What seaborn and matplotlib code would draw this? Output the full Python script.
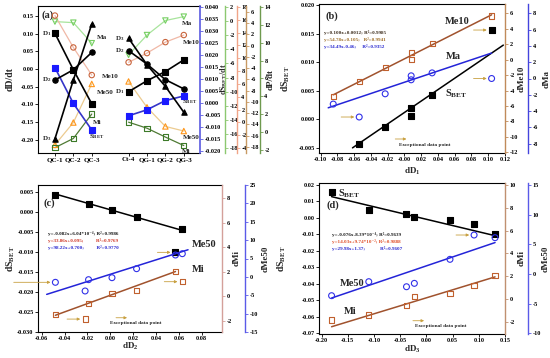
import matplotlib
matplotlib.use('Agg')
import matplotlib.pyplot as plt
import matplotlib.ticker as mticker
import numpy as np
import seaborn as sns

# ---------------- panel (a): change rates per sample ----------------
samples_a = ['QC-1', 'QC-2', 'QC-3', 'Ct-4', 'QG-1', 'QG-2', 'QG-3']
ma_a = [0.134, 0.131, 0.073, 0.040, 0.096, 0.137, 0.148]
me10_a = [0.151, 0.061, -0.017, 0.019, 0.045, 0.076, 0.096]
me50_a = [-0.214, -0.151, -0.042, -0.035, -0.108, -0.162, -0.175]
mi_a = [-0.222, -0.196, -0.127, -0.150, -0.167, -0.192, -0.216]
sbet_a = [0.004, -0.097, -0.172, -0.132, -0.115, -0.089, -0.076]
d1_a = [0.101, -0.002, -0.098, -0.064, -0.033, -0.007, 0.026]
d2_a = [-0.031, -0.002, 0.047, 0.052, 0.014, -0.030, -0.056]
d3_a = [-0.197, -0.031, 0.127, 0.087, 0.012, -0.049, -0.122]

# ---------------- panel (b): vs dD1 ----------------
dd1 = [-0.085, -0.054, -0.023, 0.008, 0.008, 0.033, 0.104]
me10_b = [-4.81, -2.79, -0.98, 0.96, -0.03, 2.12, 5.65]
ma_b = [-3.14, -4.73, -1.88, 0.33, -0.16, 0.69, 0.00]
dd1_s = [-0.054, -0.023, 0.008, 0.008, 0.033, 0.104]
sbet_b = [-0.00425, -0.00140, 0.00198, 0.00064, 0.00430, 0.01564]

# ---------------- panel (c): vs dD2 ----------------
dd2 = [-0.048, -0.022, -0.019, 0.0015, 0.023, 0.057, 0.063]
mi_c = [-1.46, -1.84, -0.56, 0.25, 0.46, 2.01, 1.20]
me50_c = [-1.48, -3.84, -0.76, -0.22, 2.23, 5.95, 6.31]
dd2_s = [-0.048, -0.019, 0.0015, 0.023, 0.057, 0.063]
sbet_c = [0.00433, 0.00200, 0.00066, -0.00124, -0.01006, -0.00415]

# ---------------- panel (d): vs dD3 ----------------
dd3 = [-0.181, -0.110, -0.038, -0.023, 0.045, 0.091, 0.131]
sbet_d = [0.0159, 0.0048, 0.0024, 0.0008, -0.0012, -0.0039, -0.0099]
mi_d = [-1.85, -1.41, -0.60, 0.20, 0.49, 1.16, 2.04]
me50_d = [-3.66, -1.30, -2.15, -1.58, 2.47, 6.57, 6.12]

# fitted lines: slope, intercept, x range
fit_b = {'sbet': (0.100, 0.0012, -0.062, 0.118),
         'me10': (54.78, 0.105, -0.085, 0.104),
         'ma': (34.49, -0.46, -0.091, 0.104)}
fit_c = {'sbet': (-0.082, 6.04e-4, -0.048, 0.063),
         'mi': (33.86, 0.095, -0.048, 0.057),
         'me50': (98.22, 0.700, -0.0556, 0.068)}
fit_d = {'sbet': (-0.076, -8.39e-4, -0.181, 0.131),
         'mi': (14.03, 9.74e-2, -0.181, 0.131),
         'me50': (29.98, 1.37, -0.181, 0.131)}

eq_b = ['y=0.100x+0.0012; R²=0.9985',
        'y=54.78x+0.105;   R²=0.9941',
        'y=34.49x-0.46;     R²=0.9352']
eq_c = ['y=-0.082x+6.04*10⁻⁴; R²=0.9986',
        'y=33.86x+0.095;          R²=0.9769',
        'y=98.22x+0.700;          R²=0.9770']
eq_d = ['y=-0.076x-8.39*10⁻⁴; R²=0.9639',
        'y=14.03x+9.74*10⁻²; R²=0.9888',
        'y=29.98x+1.37;            R²=0.9607']

sns.set_theme(style='ticks')
plt.rcParams.update({
    'font.family': ['Liberation Serif', 'DejaVu Serif'],
    'font.weight': 'bold',
    'axes.labelweight': 'bold',
    'mathtext.fontset': 'custom',
    'mathtext.rm': 'Liberation Serif:bold',
    'mathtext.it': 'Liberation Serif:italic:bold',
    'mathtext.bf': 'Liberation Serif:bold',
    'mathtext.default': 'rm',
    'axes.unicode_minus': False,
    'xtick.labelsize': 4.5, 'ytick.labelsize': 4.5,
    'xtick.major.size': 2, 'ytick.major.size': 2,
    'xtick.major.width': 0.6, 'ytick.major.width': 0.6,
    'xtick.major.pad': 1.2, 'ytick.major.pad': 1.2,
    'axes.linewidth': 0.8,
    'axes.edgecolor': 'black',
    'xtick.color': 'black', 'ytick.color': 'black',
})

W, H = 550, 358
ARROW = '#c8a040'
BROWN = '#a0522d'
BROWN_M = '#c0602e'
BLUE = '#2424d8'


def place(x0, y0, x1, y1):
    return [x0 / W, 1 - y1 / H, (x1 - x0) / W, (y1 - y0) / H]


def dots(ax, x, y, marker, color, filled=True, s=14, lw=0.8):
    sns.scatterplot(x=x, y=y, ax=ax, marker=marker, s=s, color=color,
                    facecolor=color if filled else 'none', edgecolor=color,
                    linewidth=lw, zorder=5, legend=False)


def line(ax, x, y, color, lw=1.0):
    sns.lineplot(x=x, y=y, ax=ax, color=color, lw=lw, estimator=None,
                 sort=False, legend=False, zorder=3)


def fit_line(ax, fit, color):
    k, b, x0, x1 = fit
    xs = np.array([x0, x1])
    line(ax, xs, k * xs + b, color, lw=1.1)


def twin(ax, offset, color, lim, step, fmt='%d', lw=1.0):
    tw = ax.twinx()
    for s in ['top', 'left', 'bottom']:
        tw.spines[s].set_visible(False)
    tw.spines['right'].set_position(('axes', offset))
    tw.spines['right'].set_color(color)
    tw.spines['right'].set_linewidth(lw)
    tw.set_ylim(lim)
    tw.yaxis.set_major_locator(mticker.MultipleLocator(step))
    tw.yaxis.set_major_formatter(mticker.FormatStrFormatter(fmt))
    tw.tick_params(axis='y', color=color, labelcolor='black')
    return tw


def exceptional(ax, x, y, dx=-13):
    ax.annotate('', xy=(x, y), xytext=(dx, 0), textcoords='offset points',
                arrowprops=dict(arrowstyle='-|>', color=ARROW, lw=0.6,
                                mutation_scale=4, shrinkA=0, shrinkB=3.5),
                zorder=6)


def exc_legend(ax, ax0, ay0, tx, ty):
    ax.annotate('', xy=(ax0 + 0.06, ay0), xytext=(ax0, ay0), xycoords='axes fraction',
                arrowprops=dict(arrowstyle='-|>', color=ARROW, lw=0.6,
                                mutation_scale=4, shrinkA=0, shrinkB=0))
    ax.text(tx, ty, 'Exceptional data point', transform=ax.transAxes,
            fontsize=3.8, ha='center', va='center')


def equations(ax, x, y0, lines, colors, gap_px=7):
    # stack the fit equations downwards from y0 (axes fraction)
    step = gap_px / (ax.get_position().height * H)
    for i, (txt, c) in enumerate(zip(lines, colors)):
        ax.text(x, y0 - i * step, txt, transform=ax.transAxes, fontsize=3.7,
                color=c, ha='left', va='center')


fig = plt.figure(figsize=(5.5, 3.58), dpi=100)

# ======================= (a) =======================
ax = fig.add_axes(place(38, 6, 200, 153))
xpos = np.array([i + (1 if i >= 3 else 0) for i in range(len(samples_a))])
sections = [slice(0, 3), slice(3, 7)]
series_a = [
    ('Ma', ma_a, 'v', '#76cf62', '#a8e49c', False),
    ('Me10', me10_a, 'o', '#c8643c', '#f0b8a6', False),
    ('Me50', me50_a, '^', '#ff961a', '#eccb90', False),
    ('Mi', mi_a, 's', '#3c7a28', '#4f7a34', False),
    ('SBET', sbet_a, 's', '#1a1aff', '#3434c8', True),
    ('D1', d1_a, 's', 'black', 'black', True),
    ('D2', d2_a, 'o', 'black', 'black', True),
    ('D3', d3_a, '^', 'black', 'black', True),
]
for name, vals, mk, mc, lc, filled in series_a:
    vals = np.array(vals)
    for sec in sections:
        line(ax, xpos[sec], vals[sec], lc, lw=1.2 if filled else 0.9)
    dots(ax, xpos, vals, mk, mc, filled, s=15)

ax.set_xlim(-0.92, 7.88)
ax.set_ylim(-0.237, 0.178)
ax.set_xticks(xpos)
ax.set_xticklabels(samples_a, fontsize=5)
ax.yaxis.set_major_locator(mticker.MultipleLocator(0.05))
ax.yaxis.set_major_formatter(mticker.FormatStrFormatter('%.2f'))
ax.spines['right'].set_visible(False)
ax.set_ylabel('dD/dt', fontsize=7)
ax.yaxis.set_label_coords(-0.142, 0.5)
ax.set_xlabel('')
ax.text(0.022, 0.94, '(a)', transform=ax.transAxes, fontsize=7.5, va='center')

px = 0.72  # points per pixel
lab_a = [
    ('Ma', ma_a, 2, 5, 6, 'left'), ('Me10', me10_a, 2, 10, -1, 'left'),
    ('Me50', me50_a, 2, 5, -9, 'left'), ('Mi', mi_a, 2, 1, -8, 'left'),
    ('S$_{BET}$', sbet_a, 2, -3, -7, 'left'),
    ('D$_1$', d1_a, 0, -4, 0, 'right'), ('D$_2$', d2_a, 0, -4, 0, 'right'),
    ('D$_3$', d3_a, 0, -4, 0, 'right'),
    ('D$_3$', d3_a, 3, -4, 0, 'right'), ('D$_2$', d2_a, 3, -4, 0, 'right'),
    ('D$_1$', d1_a, 3, -4, 0, 'right'),
    ('Ma', ma_a, 6, -2, -7, 'left'), ('Me10', me10_a, 6, -1, -7, 'left'),
    ('S$_{BET}$', sbet_a, 6, -2, -6, 'left'), ('Me50', me50_a, 6, -1, -6, 'left'),
    ('Mi', mi_a, 6, -2, -6, 'left'),
]
for txt, vals, i, dx, dy, ha in lab_a:
    ax.annotate(txt, xy=(xpos[i], vals[i]), xytext=(dx * px, dy * px),
                textcoords='offset points', fontsize=5, ha=ha, va='center')

tw_s = twin(ax, 1.0, '#5a5ae0', (-0.0208, 0.0404), 0.005, '%.3f', lw=1.2)
tw_s.set_ylabel('dS$_{BET}$/dt', fontsize=5.8)
tw_s.yaxis.set_label_coords(1.113, 0.5)
twin(ax, 1.154, '#8cc870', (-18.7, 2.14), 2)
twin(ax, 1.228, '#f0a488', (-4.78, 18.16), 2)
twin(ax, 1.284, '#c89a64', (-19.1, 7.07), 2)
tw_p = twin(ax, 1.370, '#6f9a4f', (-2.34, 14.1), 2)
tw_p.set_ylabel('dP/dt', fontsize=6.5)
tw_p.yaxis.set_label_coords(1.414, 0.5)

# ======================= (b) =======================
ax = fig.add_axes(place(319, 4, 505, 153))
tw1 = twin(ax, 1.0, '#c08a5a', (-12.08, 7.2), 2)
tw2 = twin(ax, 1.124, '#4444dd', (-9.15, 9.15), 2)
fit_line(ax, fit_b['sbet'], 'black')
fit_line(tw1, fit_b['me10'], BROWN)
fit_line(tw2, fit_b['ma'], BLUE)
dots(ax, dd1_s, sbet_b, 's', 'black', True, s=14)
dots(tw1, dd1, me10_b, 's', BROWN_M, False, s=14)
dots(tw2, dd1, ma_b, 'o', '#3030e8', False, s=18)
exceptional(tw2, dd1[1], ma_b[1])
exceptional(tw2, dd1[6], ma_b[6])
exceptional(ax, dd1_s[5], sbet_b[5])
ax.set_xlim(-0.102, 0.12)
ax.set_ylim(-0.0059, 0.0202)
ax.xaxis.set_major_locator(mticker.MultipleLocator(0.02))
ax.xaxis.set_major_formatter(mticker.FormatStrFormatter('%.2f'))
ax.yaxis.set_major_locator(mticker.MultipleLocator(0.005))
ax.yaxis.set_major_formatter(mticker.FormatStrFormatter('%.3f'))
ax.spines['right'].set_visible(False)
ax.set_xlabel('dD$_1$', fontsize=6.5)
ax.xaxis.set_label_coords(0.5, -0.087)
ax.set_ylabel('dS$_{BET}$', fontsize=7)
ax.yaxis.set_label_coords(-0.145, 0.5)
tw1.set_ylabel('dMe10', fontsize=6.5)
tw1.yaxis.set_label_coords(1.07, 0.5)
tw2.set_ylabel('dMa', fontsize=6.5)
tw2.yaxis.set_label_coords(1.204, 0.5)
ax.text(0.035, 0.92, '(b)', transform=ax.transAxes, fontsize=7.5, va='center')
ax.text(0.677, 0.881, 'Me10', transform=ax.transAxes, fontsize=7.5, va='center')
ax.text(0.683, 0.645, 'Ma', transform=ax.transAxes, fontsize=7.5, va='center')
ax.text(0.677, 0.397, 'S$_{BET}$', transform=ax.transAxes, fontsize=7.5, va='center')
equations(ax, 0.027, 0.81, eq_b, ['#3a2a1a', '#a0702a', '#2a2ad0'])
exc_legend(ax, 0.41, 0.094, 0.57, 0.054)

# ======================= (c) =======================
ax = fig.add_axes(place(38, 185, 222, 332))
tw1 = twin(ax, 1.0, '#d4a09a', (-2.89, 9.06), 2)
tw2 = twin(ax, 1.125, '#5a5ae8', (-15, 25), 5)
fit_line(ax, fit_c['sbet'], 'black')
fit_line(tw1, fit_c['mi'], BROWN)
fit_line(tw2, fit_c['me50'], BLUE)
dots(ax, dd2_s, sbet_c, 's', 'black', True, s=14)
dots(tw1, dd2, mi_c, 's', BROWN_M, False, s=14)
dots(tw2, dd2, me50_c, 'o', '#3030e8', False, s=18)
exceptional(tw2, dd2[0], me50_c[0], dx=-30)
exceptional(tw1, dd2[1], mi_c[1])
exceptional(tw1, dd2[6], mi_c[6])
exceptional(ax, dd2_s[4], sbet_c[4])
ax.set_xlim(-0.0632, 0.0977)
ax.set_ylim(-0.0300, 0.0068)
ax.xaxis.set_major_locator(mticker.MultipleLocator(0.02))
ax.xaxis.set_major_formatter(mticker.FormatStrFormatter('%.2f'))
ax.yaxis.set_major_locator(mticker.MultipleLocator(0.005))
ax.yaxis.set_major_formatter(mticker.FormatStrFormatter('%.3f'))
ax.spines['right'].set_visible(False)
ax.set_xlabel('dD$_2$', fontsize=6.5)
ax.xaxis.set_label_coords(0.5, -0.06)
ax.set_ylabel('dS$_{BET}$', fontsize=7)
ax.yaxis.set_label_coords(-0.112, 0.5)
tw1.set_ylabel('dMi', fontsize=6.5)
tw1.yaxis.set_label_coords(1.06, 0.5)
tw2.set_ylabel('dMe50', fontsize=6.5)
tw2.yaxis.set_label_coords(1.217, 0.5)
ax.text(0.03, 0.877, '(c)', transform=ax.transAxes, fontsize=7.5, va='center')
ax.text(0.837, 0.592, 'Me50', transform=ax.transAxes, fontsize=7.5, va='center')
ax.text(0.837, 0.422, 'Mi', transform=ax.transAxes, fontsize=7.5, va='center')
equations(ax, 0.054, 0.672, eq_c, ['#1a1a1a', '#d03a2a', '#2a2ad0'])
exc_legend(ax, 0.424, 0.097, 0.533, 0.059)

# ======================= (d) =======================
ax = fig.add_axes(place(319, 183, 505, 334))
tw1 = twin(ax, 1.0, '#c09070', (-3.08, 10.18), 2)
tw2 = twin(ax, 1.124, '#5a5ae8', (-10.12, 15.34), 5)
fit_line(ax, fit_d['sbet'], 'black')
fit_line(tw1, fit_d['mi'], BROWN)
fit_line(tw2, fit_d['me50'], BLUE)
dots(ax, dd3, sbet_d, 's', 'black', True, s=14)
dots(tw1, dd3, mi_d, 's', BROWN_M, False, s=14)
dots(tw2, dd3, me50_d, 'o', '#3030e8', False, s=18)
exceptional(tw2, dd3[5], me50_d[5])
ax.set_xlim(-0.205, 0.15)
ax.set_ylim(-0.0705, 0.0212)
ax.xaxis.set_major_locator(mticker.MultipleLocator(0.05))
ax.xaxis.set_major_formatter(mticker.FormatStrFormatter('%.2f'))
ax.yaxis.set_major_locator(mticker.MultipleLocator(0.01))
ax.yaxis.set_major_formatter(mticker.FormatStrFormatter('%.2f'))
ax.spines['right'].set_visible(False)
ax.set_xlabel('dD$_3$', fontsize=6.5)
ax.xaxis.set_label_coords(0.5, -0.066)
ax.set_ylabel('dS$_{BET}$', fontsize=7)
ax.yaxis.set_label_coords(-0.167, 0.5)
tw1.set_ylabel('dMi', fontsize=6.5)
tw1.yaxis.set_label_coords(1.07, 0.5)
tw2.set_ylabel('dMe50', fontsize=6.5)
tw2.yaxis.set_label_coords(1.199, 0.5)
ax.text(0.043, 0.854, '(d)', transform=ax.transAxes, fontsize=7.5, va='center')
ax.text(0.102, 0.927, 'S$_{BET}$', transform=ax.transAxes, fontsize=7.5, va='center')
ax.text(0.113, 0.336, 'Me50', transform=ax.transAxes, fontsize=7.5, va='center')
ax.text(0.134, 0.148, 'Mi', transform=ax.transAxes, fontsize=7.5, va='center')
equations(ax, 0.068, 0.66, eq_d, ['#1a1a1a', '#e0502a', '#2a2ad0'])
exc_legend(ax, 0.505, 0.088, 0.653, 0.053)

fig.savefig('out.png', dpi=100)
